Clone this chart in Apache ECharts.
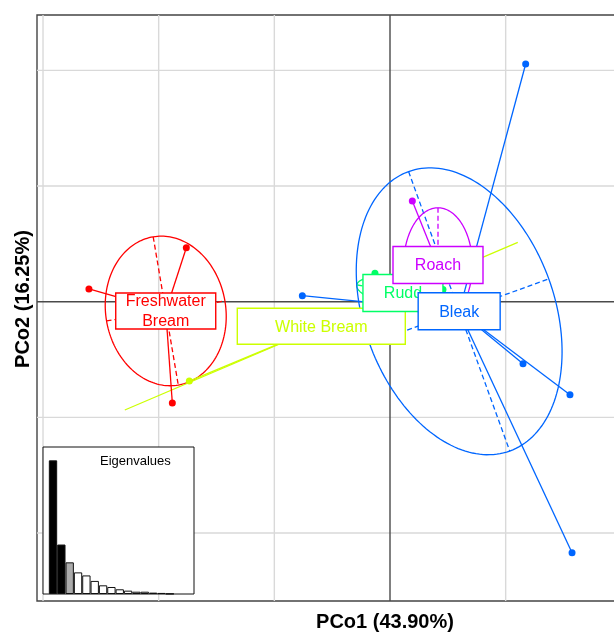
<!DOCTYPE html>
<html>
<head>
<meta charset="utf-8">
<script src="https://cdn.jsdelivr.net/npm/echarts@6/dist/echarts.min.js"></script>
<style>
  html, body { margin: 0; padding: 0; background: #fff; }
  #chart { width: 614px; height: 635px; }
</style>
</head>
<body>
<div id="chart"></div>
<script>
// ---- data: PCoA of fish groups (class centroids, individuals, inertia ellipses) ----
const groups = ['Freshwater Bream', 'White Bream', 'Rudd', 'Bleak', 'Roach'];
const groupLabels = ['Freshwater\nBream', 'White Bream', 'Rudd', 'Bleak', 'Roach'];

// individual scores [PCo1, PCo2] for each group
const freshwaterBreamScores = [[-2.603, 0.110], [-1.761, 0.467], [-1.882, -0.876]];
const whiteBreamScores = [[-1.735, -0.686], [0.547, 0.262]];
const ruddScores = [[-0.130, 0.246], [0.458, 0.105]];
const bleakScores = [[1.173, 2.055], [-0.758, 0.052], [1.150, -0.536], [1.556, -0.804], [1.574, -2.170]];
const roachScores = [[0.193, 0.871]];

// group centroids [PCo1, PCo2]
const groupCentroids = [[-1.939, -0.080], [-0.594, -0.212], [0.112, 0.075], [0.598, -0.083], [0.415, 0.317]];

// inertia ellipses: first semi-axis, second semi-axis, orientation of the first axis (degrees)
const ellipseAxis1 = [0.650, 1.847, 0.405, 1.285, 0.495];
const ellipseAxis2 = [0.519, 0.000, 0.125, 0.824, 0.297];
const ellipseAngle = [99.6, 23.1, -10.0, 109.9, 90.0];

// eigenvalues (% of total inertia)
const eigenvalues = [43.90, 16.25, 10.4, 7.1, 6.1, 4.3, 2.85, 2.3, 1.55, 1.1, 0.75, 0.75, 0.45, 0.35, 0.1];

// plot window and grid breaks
const xLimits = [-3.052, 3.052];
const yLimits = [-2.588, 2.479];
const xBreaks = [-3, -2, -1, 1, 2];
const yBreaks = [-2, -1, 1, 2];

// ---- styles ----
const groupColors = ['#FF0000', '#CCFF00', '#00FF66', '#0066FF', '#CC00FF'];
const labelBoxSize = [[100, 36], [168, 36], [80, 37], [82, 37], [90, 37]];
const FONT = "'Liberation Sans', Arial, Helvetica, sans-serif";

const allScores = [freshwaterBreamScores, whiteBreamScores, ruddScores, bleakScores, roachScores];

// derived series data
const starData = [];
const pointData = [];
allScores.forEach((scores, g) => {
  scores.forEach(s => {
    starData.push([groupCentroids[g][0], groupCentroids[g][1], s[0], s[1], g]);
    pointData.push([s[0], s[1], g]);
  });
});
const ellipseData = groups.map((_, g) => [groupCentroids[g][0], groupCentroids[g][1], ellipseAxis1[g], ellipseAxis2[g], ellipseAngle[g], g]);
const labelData = groups.map((_, g) => [groupCentroids[g][0], groupCentroids[g][1], g]);
const gridData = xBreaks.map(v => [v, 0, 0]).concat(yBreaks.map(v => [0, v, 1]), [[0, 0, 2], [0, 0, 3]]);

const chart = echarts.init(document.getElementById('chart'), null, { renderer: 'canvas' });

const option = {
  backgroundColor: '#fff',
  animation: false,
  title: {
    text: 'Eigenvalues',
    left: 100, top: 455, padding: 0, z: 20,
    textStyle: { fontSize: 13, fontWeight: 'normal', color: '#000', fontFamily: FONT }
  },
  grid: [
    { left: 37, top: 15, width: 706, height: 586, show: true, backgroundColor: 'transparent',
      borderColor: '#444', borderWidth: 1.4, outerBoundsMode: 'none', containLabel: false },
    { left: 43, top: 447, width: 151, height: 147, show: true, backgroundColor: '#fff',
      borderColor: '#111', borderWidth: 1, z: 10, outerBoundsMode: 'none', containLabel: false }
  ],
  xAxis: [
    { type: 'value', gridIndex: 0, min: xLimits[0], max: xLimits[1],
      axisLine: { show: false }, axisTick: { show: false }, axisLabel: { show: false }, splitLine: { show: false },
      name: 'PCo1 (43.90%)', nameLocation: 'middle', nameGap: 11,
      nameTextStyle: { fontSize: 20, fontWeight: 'bold', color: '#000', fontFamily: FONT, padding: [0, 10, 0, 0] } },
    { type: 'value', gridIndex: 1, min: -0.2, max: 17.9, show: false }
  ],
  yAxis: [
    { type: 'value', gridIndex: 0, min: yLimits[0], max: yLimits[1],
      axisLine: { show: false }, axisTick: { show: false }, axisLabel: { show: false }, splitLine: { show: false },
      name: 'PCo2 (16.25%)', nameLocation: 'middle', nameGap: 4, nameRotate: 90,
      nameTextStyle: { fontSize: 20, fontWeight: 'bold', color: '#000', fontFamily: FONT, padding: [0, 0, 0, 18] } },
    { type: 'value', gridIndex: 1, min: 0, max: v => v.max * 1.1, show: false }
  ],
  series: [
    // background grid and origin lines
    {
      type: 'custom', xAxisIndex: 0, yAxisIndex: 0, z: 1, silent: true,
      data: gridData,
      renderItem(params, api) {
        const kind = api.value(2);
        let a, b;
        if (kind === 0 || kind === 2) {
          a = api.coord([api.value(0), yLimits[0]]); b = api.coord([api.value(0), yLimits[1]]);
        } else {
          a = api.coord([xLimits[0], api.value(1)]); b = api.coord([xLimits[1], api.value(1)]);
        }
        const origin = kind >= 2;
        return { type: 'line', shape: { x1: a[0], y1: a[1], x2: b[0], y2: b[1] },
          style: { stroke: origin ? '#4a4a4a' : '#d9d9d9', lineWidth: 1.4 }, z2: origin ? 5 : 1 };
      }
    },
    // inertia ellipses with their axes
    {
      type: 'custom', xAxisIndex: 0, yAxisIndex: 0, z: 3, silent: true,
      data: ellipseData,
      renderItem(params, api) {
        const cx = api.value(0), cy = api.value(1), a = api.value(2), b = api.value(3);
        const th = api.value(4) * Math.PI / 180, g = api.value(5);
        const c = Math.cos(th), s = Math.sin(th);
        const col = groupColors[g];
        const a1 = api.coord([cx + a * c, cy + a * s]), a2 = api.coord([cx - a * c, cy - a * s]);
        if (b === 0) {
          // degenerate ellipse: a single segment along the first axis
          return { type: 'line', shape: { x1: a1[0], y1: a1[1], x2: a2[0], y2: a2[1] }, style: { stroke: col, lineWidth: 1.2 } };
        }
        const pts = [];
        for (let k = 0; k <= 180; k++) {
          const t = 2 * Math.PI * k / 180;
          pts.push(api.coord([cx + a * c * Math.cos(t) - b * s * Math.sin(t), cy + a * s * Math.cos(t) + b * c * Math.sin(t)]));
        }
        const b1 = api.coord([cx - b * s, cy + b * c]), b2 = api.coord([cx + b * s, cy - b * c]);
        return { type: 'group', children: [
          { type: 'polyline', shape: { points: pts }, style: { stroke: col, fill: null, lineWidth: 1.3 } },
          { type: 'line', shape: { x1: a1[0], y1: a1[1], x2: a2[0], y2: a2[1] }, style: { stroke: col, lineWidth: 1.3, lineDash: [5, 3] } },
          { type: 'line', shape: { x1: b1[0], y1: b1[1], x2: b2[0], y2: b2[1] }, style: { stroke: col, lineWidth: 1.3, lineDash: [5, 3] } }
        ] };
      }
    },
    // stars: centroid to each individual
    {
      type: 'custom', xAxisIndex: 0, yAxisIndex: 0, z: 4, silent: true,
      data: starData,
      renderItem(params, api) {
        const p0 = api.coord([api.value(0), api.value(1)]);
        const p1 = api.coord([api.value(2), api.value(3)]);
        return { type: 'line', shape: { x1: p0[0], y1: p0[1], x2: p1[0], y2: p1[1] },
          style: { stroke: groupColors[api.value(4)], lineWidth: 1.3 } };
      }
    },
    // individuals
    {
      type: 'scatter', xAxisIndex: 0, yAxisIndex: 0, z: 5, silent: true,
      symbol: 'circle', symbolSize: 7,
      data: pointData,
      itemStyle: { color: p => groupColors[p.value[2]], opacity: 1 }
    },
    // group labels in boxes
    {
      type: 'custom', xAxisIndex: 0, yAxisIndex: 0, z: 6, silent: true,
      data: labelData,
      renderItem(params, api) {
        const g = api.value(2);
        const p = api.coord([api.value(0), api.value(1)]);
        const w = labelBoxSize[g][0], h = labelBoxSize[g][1];
        return { type: 'group', children: [
          { type: 'rect', shape: { x: p[0] - w / 2, y: p[1] - h / 2, width: w, height: h },
            style: { fill: '#fff', stroke: groupColors[g], lineWidth: 1.4 }, z2: g * 2 },
          { type: 'text', style: { text: groupLabels[g], x: p[0], y: p[1] + 1, align: 'center', verticalAlign: 'middle',
            fill: groupColors[g], font: '16px ' + FONT, lineHeight: 20 }, z2: g * 2 + 1 }
        ] };
      }
    },
    // eigenvalue screeplot inset
    {
      type: 'bar', xAxisIndex: 1, yAxisIndex: 1, z: 11, silent: true,
      barWidth: 8.34,
      data: eigenvalues.map((v, i) => [i + 1, v]),
      itemStyle: {
        color: p => (p.dataIndex < 2 ? '#000' : (p.dataIndex === 2 ? '#ABABAB' : '#fff')),
        borderColor: '#111', borderWidth: 1
      }
    }
  ]
};

chart.setOption(option);
</script>
</body>
</html>
